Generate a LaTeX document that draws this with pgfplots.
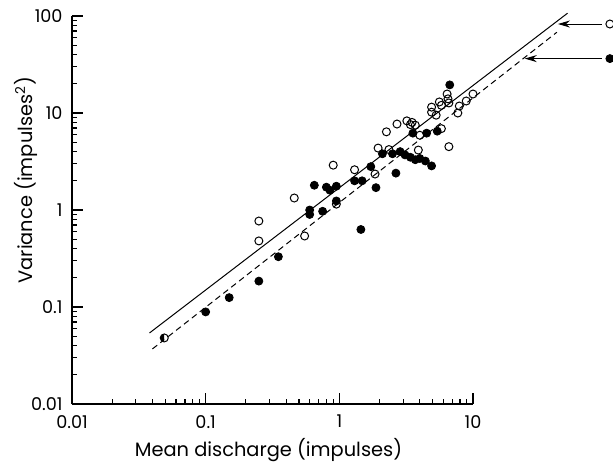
\documentclass[border=0pt]{standalone}
\usepackage{fontspec}
\setmainfont{Poppins}
\usepackage{pgfplots}
\pgfplotsset{compat=1.18}
\usetikzlibrary{arrows.meta,plotmarks}

% open circles
\pgfplotstableread{
x y
0.25 0.77
0.25 0.48
0.55 0.54
0.46 1.33
0.95 1.15
0.90 2.9
1.30 2.6
1.85 2.35
1.95 4.35
2.35 4.2
2.25 6.4
2.70 7.7
3.20 8.3
3.50 8.0
3.70 7.5
3.40 7.6
3.90 4.15
4.00 5.9
4.90 11.5
4.90 10.2
5.30 9.5
5.60 13.0
5.80 12.0
6.40 15.7
6.50 14.0
6.60 12.7
5.80 6.9
6.60 4.5
7.70 10.0
7.90 11.8
8.90 13.3
10.0 15.7
}\opendata

% filled circles
\pgfplotstableread{
x y
0.10 0.089
0.15 0.125
0.25 0.185
0.35 0.33
0.60 1.0
0.60 0.9
0.65 1.8
0.75 0.97
0.80 1.72
0.85 1.6
0.95 1.76
0.95 1.24
1.30 2.0
1.48 2.0
1.45 0.63
1.72 2.8
1.88 1.7
2.10 3.8
2.50 3.8
2.65 2.4
2.85 4.0
3.10 3.7
3.40 3.5
3.70 3.3
4.00 3.4
4.40 3.2
4.90 2.85
3.55 6.2
4.50 6.2
5.40 6.5
6.70 19.5
}\filleddata

\begin{document}
\begin{tikzpicture}
\fontsize{8.5}{10}\selectfont
\path[use as bounding box] (-36pt,-29pt) rectangle (270.5pt,202pt);
\begin{axis}[
  at={(0,0)}, anchor=south west, scale only axis,
  width=200.5pt, height=194pt,
  xmode=log, ymode=log,
  xmin=0.01, xmax=10, ymin=0.01, ymax=100,
  axis x line=bottom, axis y line=left,
  axis line style={-, line width=0.8pt},
  tick align=inside, major tick length=5.5pt, minor tick length=2.5pt,
  every tick/.append style={black, line width=0.6pt},
  xtick={0.01,0.1,1,10}, xticklabels={0.01,0.1,1,10},
  ytick={0.01,0.1,1,10,100}, yticklabels={0.01,0.1,1,10,100},
  minor xtick={0.02,0.03,0.04,0.05,0.06,0.07,0.08,0.09,0.2,0.3,0.4,0.5,0.6,0.7,0.8,0.9,2,3,4,5,6,7,8,9},
  minor ytick={0.02,0.03,0.04,0.05,0.06,0.07,0.08,0.09,0.2,0.3,0.4,0.5,0.6,0.7,0.8,0.9,2,3,4,5,6,7,8,9,20,30,40,50,60,70,80,90},
  /pgf/number format/assume math mode=true,
  tick label style={font=\fontsize{8.8}{10}\selectfont},
  xticklabel style={yshift=-2.5pt},
  yticklabel style={xshift=-1.7pt},
  xlabel={Mean discharge (impulses)},
  xlabel style={at={(axis description cs:0.49,-0.134)}, anchor=base, font=\fontsize{9.7}{11}\selectfont},
  ylabel={Variance (impulses\textsuperscript{2})},
  ylabel style={at={(axis description cs:-0.115,0.577)}, anchor=center, font=\fontsize{9.7}{11}\selectfont},
  clip=false,
]
% fitted lines
\addplot[black, line width=0.5pt] coordinates {(0.038,0.054) (51,107)};
\addplot[black, line width=0.5pt, dash pattern=on 3pt off 2pt] coordinates {(0.04,0.037) (42.4,68)};
% data
\addplot[only marks, mark=*, mark size=2pt, black] table[x=x, y=y] {\filleddata};
\addplot[only marks, mark=o, mark size=2pt, black, mark options={line width=0.5pt}] table[x=x, y=y] {\opendata};
\addplot[only marks, mark=halfcircle*, mark size=2pt, black, mark options={line width=0.5pt, rotate=90}] coordinates {(0.049,0.048)};
% key with arrows
\draw[-{Stealth[length=6pt,width=3.5pt]}, line width=0.5pt] (axis cs:92,82.7) -- (axis cs:43.2,82.7);
\draw[-{Stealth[length=6pt,width=3.5pt]}, line width=0.5pt] (axis cs:92,36.4) -- (axis cs:24.4,36.4);
\addplot[only marks, mark=o, mark size=2pt, black, mark options={line width=0.5pt}] coordinates {(105.7,82.7)};
\addplot[only marks, mark=*, mark size=2pt, black] coordinates {(105.7,36.4)};
\end{axis}
\end{tikzpicture}
\end{document}
